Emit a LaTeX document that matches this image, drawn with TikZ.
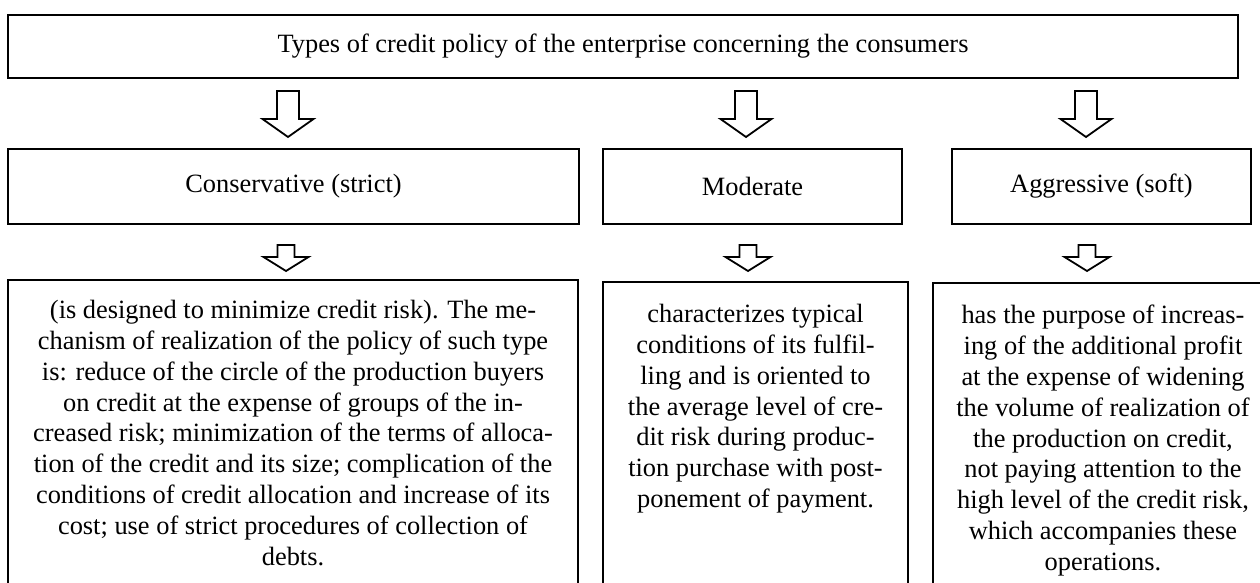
\documentclass[tikz,border=0pt]{standalone}
\usepackage{fontspec}
\setmainfont{Liberation Serif}
\usepackage{tikz}
\usetikzlibrary{positioning,calc}

\tikzset{
  box/.style={draw, line width=1.1pt, outer sep=0pt, inner sep=0pt, anchor=north west,
    minimum height=37.5pt, font=\fontsize{13.2}{15.4}\selectfont},
  lowtext/.style={inner sep=0pt, align=center, font=\fontsize{13.2}{15.4}\selectfont},
  hollow/.style={draw, line width=0.9pt, fill=white, line join=miter}
}
\newcommand{\bigdown}[1]{\draw[hollow] #1 ++(-11,0) -- ++(22,0) -- ++(0,28) -- ++(14.5,0)
  -- ++(-25.5,18) -- ++(-25.5,-18) -- ++(14.5,0) -- cycle;}
\newcommand{\smalldown}[1]{\draw[hollow] #1 ++(-8.5,0) -- ++(17,0) -- ++(0,12) -- ++(14,0)
  -- ++(-22.5,14) -- ++(-22.5,-14) -- ++(14,0) -- cycle;}

\begin{document}
\begin{tikzpicture}[x=0.5pt, y=-0.5pt]
    \useasboundingbox (0,0) rectangle (1260,583);
    %% top row
     \node[box, minimum width=615pt, minimum height=31.5pt] (top) at (8,15)
        {Types of credit policy of the enterprise concerning the consumers};

    %% middle row
     \node[box, minimum width=285.5pt] (cons) at (8,149) {Conservative (strict)};
     \node[box, minimum width=149.5pt] (mod) at (603,149) {Moderate};
     \node[box, minimum width=149.5pt] (aggr) at (952,149) {Aggressive (soft)};

     \bigdown{($(top.south -| cons.center)+(-5.5,13)$)}
     \bigdown{($(top.south -| mod.center)+(-6.5,13)$)}
     \bigdown{($(top.south -| aggr.center)+(-15.5,13)$)}

    %% bottom row
     \node[box, minimum width=285pt, minimum height=160pt] (consd) at (8,280) {};
     \node[box, minimum width=152.5pt, minimum height=160pt] (modd) at (603,282) {};
     \node[box, minimum width=170pt, minimum height=160pt] (aggrd) at (933,283) {};

     \smalldown{($(cons.south)+(-7.5,21)$)}
     \smalldown{($(mod.south)+(-4.5,21)$)}
     \smalldown{($(aggr.south)+(-14.5,21)$)}

     \node[lowtext, below=10pt of consd.north] (const) {(is designed to minimize credit risk). The me-\\
        chanism of realization of the policy of such type\\
        is: reduce of the circle of the production buyers\\
        on credit at the expense of groups of the in-\\
        creased risk; minimization of the terms of alloca-\\
        tion of the credit and its size; complication of the\\
        conditions of credit allocation and increase of its\\
        cost; use of strict procedures of collection of\\
        debts.};
     \node[lowtext, below=11pt of modd.north] (modt) {characterizes typical\\
        conditions of its fulfil-\\
        ling and is oriented to\\
        the average level of cre-\\
        dit risk during produc-\\
        tion purchase with post-\\
        ponement of payment.};
     \node[lowtext, below=11pt of aggrd.north] (aggrt) {has the purpose of increas-\\
        ing of the additional profit\\
        at the expense of widening\\
        the volume of realization of\\
        the production on credit,\\
        not paying attention to the\\
        high level of the credit risk,\\
        which accompanies these\\
        operations.};
\end{tikzpicture}
\end{document}
